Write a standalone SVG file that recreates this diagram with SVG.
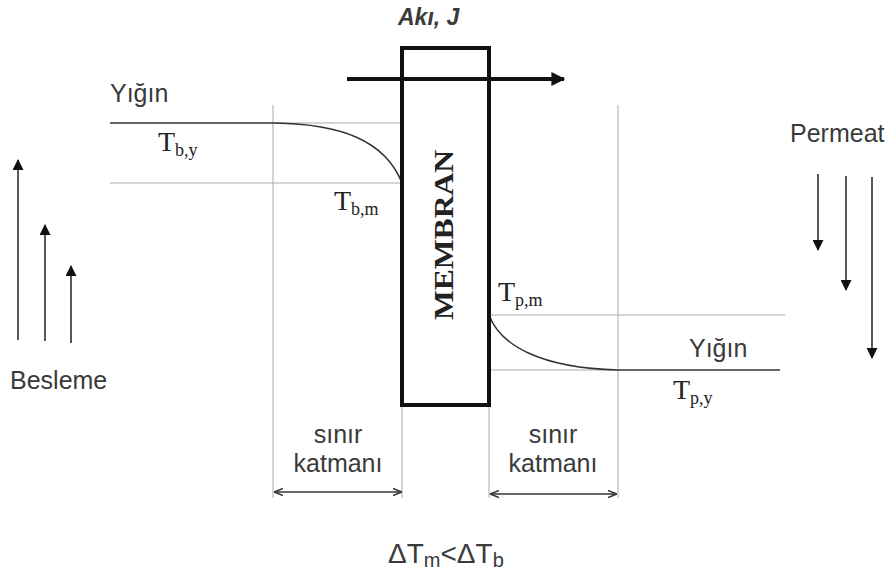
<svg xmlns="http://www.w3.org/2000/svg" width="890" height="580" viewBox="0 0 890 580">
<defs>
<style>
.sans{font-family:"Liberation Sans",Arial,sans-serif;fill:#3a3a3a;font-size:25px}
.serif{font-family:"Liberation Serif","Times New Roman",serif;fill:#222;font-size:28px}
.sub{font-size:18px}
.thin{stroke:#aaa;stroke-width:1;fill:none}
.dark{stroke:#333;stroke-width:1.5;fill:none}
.arr{stroke:#222;stroke-width:1.5;fill:none}
</style>
<marker id="tri" viewBox="0 0 10 10" refX="9" refY="5" markerWidth="12" markerHeight="11" markerUnits="userSpaceOnUse" orient="auto">
<path d="M0,0 L10,5 L0,10 Z" fill="#111"/>
</marker>
<marker id="big" viewBox="0 0 10 10" refX="9" refY="5" markerWidth="16" markerHeight="14" markerUnits="userSpaceOnUse" orient="auto">
<path d="M0,0 L10,5 L0,10 Z" fill="#111"/>
</marker>
<marker id="open" viewBox="0 0 10 10" refX="10" refY="5" markerWidth="9" markerHeight="9" markerUnits="userSpaceOnUse" orient="auto-start-reverse">
<path d="M0,1 L10,5 L0,9" fill="none" stroke="#333" stroke-width="1.5"/>
</marker>
</defs>
<rect width="890" height="580" fill="#fff"/>
<g id="connectors">
<line class="thin" x1="273" y1="105" x2="273" y2="498"/>
<line class="thin" x1="402" y1="400" x2="402" y2="498"/>
<line class="thin" x1="489" y1="400" x2="489" y2="498"/>
<line class="thin" x1="618" y1="105" x2="618" y2="498"/>
<line class="dark" x1="110" y1="123" x2="275" y2="123"/>
<line class="thin" x1="275" y1="123" x2="402" y2="123"/>
<line class="thin" x1="110" y1="183" x2="402" y2="183"/>
<path class="dark" d="M275,123 C340,124 385,140 402,183"/>
<line class="thin" x1="489" y1="315" x2="785" y2="315"/>
<line class="thin" x1="489" y1="370" x2="618" y2="370"/>
<line class="dark" x1="618" y1="370" x2="780" y2="370"/>
<path class="dark" d="M489,315 C500,345 540,368 618,370"/>
<line x1="347" y1="79" x2="564" y2="79" stroke="#111" stroke-width="4" marker-end="url(#big)"/>
<line class="arr" x1="18" y1="340" x2="18" y2="160" marker-end="url(#tri)"/>
<line class="arr" x1="45" y1="341" x2="45" y2="225" marker-end="url(#tri)"/>
<line class="arr" x1="71" y1="343" x2="71" y2="266" marker-end="url(#tri)"/>
<line class="arr" x1="818" y1="174" x2="818" y2="250" marker-end="url(#tri)"/>
<line class="arr" x1="846" y1="176" x2="846" y2="290" marker-end="url(#tri)"/>
<line class="arr" x1="872" y1="177" x2="872" y2="358" marker-end="url(#tri)"/>
<line x1="274" y1="492" x2="402" y2="492" stroke="#333" stroke-width="1.5" marker-start="url(#open)" marker-end="url(#open)"/>
<line x1="490" y1="494" x2="617" y2="494" stroke="#333" stroke-width="1.5" marker-start="url(#open)" marker-end="url(#open)"/>
</g>
<g id="membrane">
<rect x="402" y="48" width="87" height="357" fill="none" stroke="#111" stroke-width="4"/>
<text class="serif" transform="translate(453,235) rotate(-90)" text-anchor="middle" font-size="26" font-weight="bold" textLength="170" lengthAdjust="spacingAndGlyphs">MEMBRAN</text>
</g>
<g id="labels">
<text class="sans" x="398" y="25" style="font-size:23px" font-style="italic" font-weight="bold" fill="#111">Akı, J</text>
<text class="sans" x="110" y="102">Yığın</text>
<text class="serif" x="158" y="151">T<tspan class="sub" dy="5">b,y</tspan></text>
<text class="serif" x="334" y="210">T<tspan class="sub" dy="5">b,m</tspan></text>
<text class="serif" x="498" y="301">T<tspan class="sub" dy="5">p,m</tspan></text>
<text class="sans" x="689" y="357">Yığın</text>
<text class="serif" x="673" y="399">T<tspan class="sub" dy="5">p,y</tspan></text>
<text class="sans" x="790" y="142">Permeat</text>
<text class="sans" x="10" y="389">Besleme</text>
<text class="sans" x="338" y="443" text-anchor="middle">sınır</text>
<text class="sans" x="338" y="472" text-anchor="middle">katmanı</text>
<text class="sans" x="553" y="443" text-anchor="middle">sınır</text>
<text class="sans" x="553" y="472" text-anchor="middle">katmanı</text>
<text class="sans" x="388" y="563" style="font-size:28px">ΔT<tspan style="font-size:20px" dy="4">m</tspan><tspan dy="-4">&lt;ΔT</tspan><tspan style="font-size:20px" dy="4">b</tspan></text>
</g>
</svg>
